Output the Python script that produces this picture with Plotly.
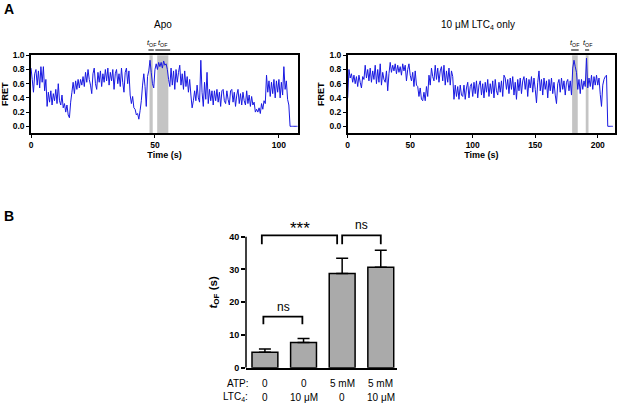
import numpy as np
import plotly.graph_objs as go

# FRET traces (A) - read every 0.5 s (Apo) and every 1 s (LTC4)
dt_apo = 0.5
fret_apo = [
    0.82, 0.66, 0.48, 0.74, 0.80, 0.58, 0.78, 0.54, 0.84, 0.62,
    0.84, 0.50, 0.66, 0.28, 0.48, 0.34, 0.50, 0.30, 0.46, 0.36,
    0.52, 0.32, 0.60, 0.36, 0.30, 0.44, 0.26, 0.32, 0.20, 0.30,
    0.16, 0.12, 0.34, 0.48, 0.62, 0.46, 0.64, 0.52, 0.66, 0.54,
    0.66, 0.58, 0.70, 0.56, 0.76, 0.62, 0.80, 0.66, 0.58, 0.46,
    0.74, 0.82, 0.60, 0.52, 0.76, 0.62, 0.78, 0.56, 0.74, 0.62,
    0.80, 0.64, 0.82, 0.58, 0.76, 0.64, 0.80, 0.52, 0.74, 0.80,
    0.60, 0.74, 0.56, 0.82, 0.62, 0.48, 0.76, 0.82, 0.60, 0.78,
    0.44, 0.32, 0.42, 0.26, 0.24, 0.16, 0.18, 0.10, 0.22, 0.36,
    0.58, 0.74, 0.56, 0.28, 0.70, 0.78, 0.93, 0.76, 0.60, 0.54,
    0.80, 0.88, 0.80, 0.90, 0.84, 0.90, 0.82, 0.92, 0.86, 0.88,
    0.80, 0.66, 0.56, 0.82, 0.58, 0.78, 0.52, 0.80, 0.62, 0.76,
    0.86, 0.58, 0.74, 0.52, 0.78, 0.56, 0.70, 0.48, 0.66, 0.44,
    0.26, 0.36, 0.50, 0.36, 0.58, 0.40, 0.34, 0.93, 0.48, 0.28,
    0.62, 0.38, 0.76, 0.32, 0.52, 0.36, 0.50, 0.30, 0.50, 0.36,
    0.52, 0.34, 0.48, 0.28, 0.50, 0.52, 0.36, 0.32, 0.50, 0.38,
    0.30, 0.50, 0.52, 0.34, 0.48, 0.28, 0.44, 0.52, 0.32, 0.46,
    0.30, 0.48, 0.36, 0.30, 0.50, 0.32, 0.44, 0.28, 0.42, 0.30,
    0.34, 0.20, 0.24, 0.20, 0.26, 0.18, 0.32, 0.24, 0.36, 0.32,
    0.72, 0.48, 0.64, 0.42, 0.62, 0.46, 0.66, 0.40, 0.64, 0.48,
    0.66, 0.40, 0.62, 0.44, 0.84, 0.52, 0.64, 0.38, 0.30, 0.00,
    0.00, 0.00, 0.00, 0.00, 0.00, 0.00,
]

dt_ltc = 1.0
fret_ltc = [
    0.40, 0.80, 0.68, 0.74, 0.62, 0.72, 0.60, 0.70, 0.56, 0.72,
    0.62, 0.54, 0.70, 0.66, 0.86, 0.68, 0.80, 0.64, 0.82, 0.62,
    0.78, 0.66, 0.86, 0.60, 0.80, 0.62, 0.88, 0.58, 0.76, 0.66,
    0.62, 0.78, 0.50, 0.74, 0.90, 0.76, 0.86, 0.78, 0.88, 0.74,
    0.86, 0.76, 0.84, 0.72, 0.88, 0.78, 0.86, 0.64, 0.80, 0.88,
    0.72, 0.64, 0.76, 0.56, 0.78, 0.58, 0.56, 0.42, 0.54, 0.38,
    0.36, 0.48, 0.36, 0.56, 0.42, 0.72, 0.58, 0.82, 0.70, 0.64,
    0.86, 0.66, 0.82, 0.62, 0.78, 0.84, 0.64, 0.86, 0.58, 0.78,
    0.62, 0.82, 0.58, 0.78, 0.70, 0.38, 0.58, 0.42, 0.56, 0.38,
    0.58, 0.44, 0.42, 0.58, 0.38, 0.54, 0.62, 0.40, 0.56, 0.60,
    0.42, 0.62, 0.46, 0.64, 0.40, 0.58, 0.64, 0.44, 0.60, 0.40,
    0.62, 0.48, 0.66, 0.42, 0.60, 0.46, 0.64, 0.40, 0.66, 0.50,
    0.44, 0.62, 0.48, 0.64, 0.42, 0.72, 0.68, 0.52, 0.66, 0.46,
    0.68, 0.52, 0.70, 0.44, 0.62, 0.38, 0.66, 0.50, 0.68, 0.46,
    0.64, 0.70, 0.52, 0.68, 0.42, 0.66, 0.54, 0.70, 0.48, 0.68,
    0.52, 0.33, 0.62, 0.78, 0.50, 0.66, 0.44, 0.68, 0.52, 0.64,
    0.40, 0.66, 0.50, 0.68, 0.46, 0.62, 0.44, 0.32, 0.60, 0.66,
    0.48, 0.68, 0.52, 0.64, 0.44, 0.62, 0.66, 0.50, 0.64, 0.44,
    0.82, 0.93, 0.84, 0.76, 0.52, 0.66, 0.46, 0.66, 0.52, 0.64,
    0.56, 0.96, 0.54, 0.68, 0.56, 0.72, 0.52, 0.70, 0.58, 0.72,
    0.58, 0.68, 0.45, 0.28, 0.58, 0.66, 0.70, 0.72, 0.00, 0.00,
    0.00, 0.00, 0.00,
]

# tOF windows (s)
tof_apo = [(47.8, 49.1), (50.9, 55.4)]
tof_ltc = [(179.5, 184.0), (190.4, 192.6)]

# panel B
atp_labels = ['0', '0', '5 mM', '5 mM']
ltc_labels = ['0', '10 μM', '0', '10 μM']
tof_mean = [4.7, 7.7, 28.8, 30.7]
tof_err = [1.0, 1.2, 4.6, 5.2]

W, H = 617, 406
def px(x):
    return x / W
def py_(y):
    return 1 - y / H

blue = 'rgb(25,25,225)'
shade = 'rgb(196,196,196)'
font = 'Liberation Sans, Arial, sans-serif'

def note(text, x, y, xref='paper', yref='paper', size=10, xanchor='center'):
    fig.add_annotation(x=x, y=y, xref=xref, yref=yref, text=text, showarrow=False,
                       xanchor=xanchor, yanchor='middle',
                       font=dict(family=font, size=size, color='black'))

t_apo = np.arange(len(fret_apo)) * dt_apo
t_ltc = np.arange(len(fret_ltc)) * dt_ltc

fig = go.Figure()
fig.add_trace(go.Scatter(x=t_apo, y=fret_apo, mode='lines',
                         line=dict(color=blue, width=1, simplify=False), xaxis='x', yaxis='y'))
fig.add_trace(go.Scatter(x=t_ltc, y=fret_ltc, mode='lines',
                         line=dict(color=blue, width=1, simplify=False), xaxis='x2', yaxis='y2'))
cats = [0, 1, 2, 3]
fig.add_trace(go.Bar(
    x=cats, y=tof_mean, width=0.67, xaxis='x3', yaxis='y3',
    marker=dict(color='rgb(170,170,170)', line=dict(color='black', width=1.5)),
    error_y=dict(type='data', array=tof_err, arrayminus=[0] * 4, symmetric=False,
                 color='black', thickness=1.5, width=6)
))

trace_dom_y = [py_(133.4), py_(55.3)]
frame_ax = dict(showline=True, mirror=True, linecolor='black', linewidth=1.5,
                ticks='outside', ticklen=3, tickwidth=1.2, tickcolor='black',
                showgrid=False, zeroline=False, automargin=False,
                tickfont=dict(family=font, size=8.5, color='black', weight='bold'))
ytrace = dict(frame_ax, range=[-0.1, 1.0], tickvals=[0, 0.2, 0.4, 0.6, 0.8, 1.0],
              ticktext=['0.0', '0.2', '0.4', '0.6', '0.8', '1.0'],
              title=dict(text='FRET', standoff=3,
                         font=dict(family=font, size=9, color='black', weight='bold')),
              domain=trace_dom_y)
xtitle = dict(text='Time (s)', standoff=0,
              font=dict(family=font, size=9, color='black', weight='bold'))

fig.update_layout(
    width=W, height=H, autosize=False,
    margin=dict(l=0, r=0, t=0, b=0, pad=0),
    paper_bgcolor='white', plot_bgcolor='white',
    showlegend=False,
    font=dict(family=font, color='black'),
    xaxis=dict(frame_ax, range=[0, 107.7], tickvals=[0, 50, 100],
               domain=[px(31), px(298)], anchor='y', title=xtitle),
    yaxis=dict(ytrace, anchor='x'),
    xaxis2=dict(frame_ax, range=[0, 213.8], tickvals=[0, 50, 100, 150, 200],
                domain=[px(347.7), px(615)], anchor='y2', title=xtitle),
    yaxis2=dict(ytrace, anchor='x2'),
    xaxis3=dict(range=[-0.49, 3.42], domain=[px(246), px(397)], anchor='y3',
                showline=True, linecolor='black', linewidth=1.5, ticks='',
                showticklabels=False, showgrid=False, zeroline=False, automargin=False),
    yaxis3=dict(range=[0, 46], domain=[py_(367.7), py_(217.1)], anchor='x3',
                showline=False, ticks='outside', ticklen=4, tickwidth=1.5,
                tickcolor='black', tickvals=[0, 10, 20, 30, 40],
                showgrid=False, zeroline=False, automargin=False,
                tickfont=dict(family=font, size=9, color='black', weight='bold'),
                title=dict(text='<i>t</i><sub>OF</sub> (s)', standoff=9,
                           font=dict(family=font, size=11.5, color='black', weight='bold'))),
)

# y axis line of panel B stops at 40
fig.add_shape(type='line', xref='paper', yref='y3', x0=px(246), x1=px(246), y0=0, y1=40,
              line=dict(color='black', width=1.5))

# shaded tOF windows + labels
for xr, (t0, t1) in [('x', w) for w in tof_apo] + [('x2', w) for w in tof_ltc]:
    yr = 'y' if xr == 'x' else 'y2'
    fig.add_shape(type='rect', xref=xr, yref=yr + ' domain', x0=t0, x1=t1, y0=0, y1=1,
                  fillcolor=shade, line=dict(width=0), layer='below')
    fig.add_shape(type='line', xref=xr, yref='paper', x0=t0 - 0.1 * (t1 - t0) - 0.3,
                  x1=t1 + 0.1 * (t1 - t0) + 0.3, y0=py_(50), y1=py_(50),
                  line=dict(color='black', width=1))
    note('<i>t</i><sub>OF</sub>', (t0 + t1) / 2, py_(43), xref=xr, size=7.5)

# significance brackets
brackets = [(-0.08, 1.87, 40.4, 37.7, '***', 0.9, 42.6, 17),
            (2.0, 3.0, 40.4, 37.7, 'ns', 2.5, 43.6, 12),
            (-0.04, 0.97, 15.6, 13.3, 'ns', 0.47, 18.4, 12)]
for x0, x1, ytop, yleg, txt, tx, ty, fs in brackets:
    fig.add_shape(type='path', xref='x3', yref='y3',
                  path='M %f,%f L %f,%f L %f,%f L %f,%f' % (x0, yleg, x0, ytop, x1, ytop, x1, yleg),
                  line=dict(color='black', width=1.8))
    note(txt, tx, ty, xref='x3', yref='y3', size=fs)

# category rows
for i in cats:
    note(atp_labels[i], i, py_(383), xref='x3')
    note(ltc_labels[i], i, py_(397), xref='x3')
note('ATP:', px(250), py_(383), xanchor='right')
note('LTC<sub>4</sub>:', px(250), py_(397), xanchor='right')

# panel titles
note('Apo', px(163), py_(25))
note('10 μM LTC<sub>4</sub> only', px(478), py_(25))
note('<b>A</b>', px(2), py_(9), size=14, xanchor='left')
note('<b>B</b>', px(2), py_(216), size=14, xanchor='left')

fig.write_html("out.html", config={'displayModeBar': False},
               post_script="document.body.style.margin='0px';")
